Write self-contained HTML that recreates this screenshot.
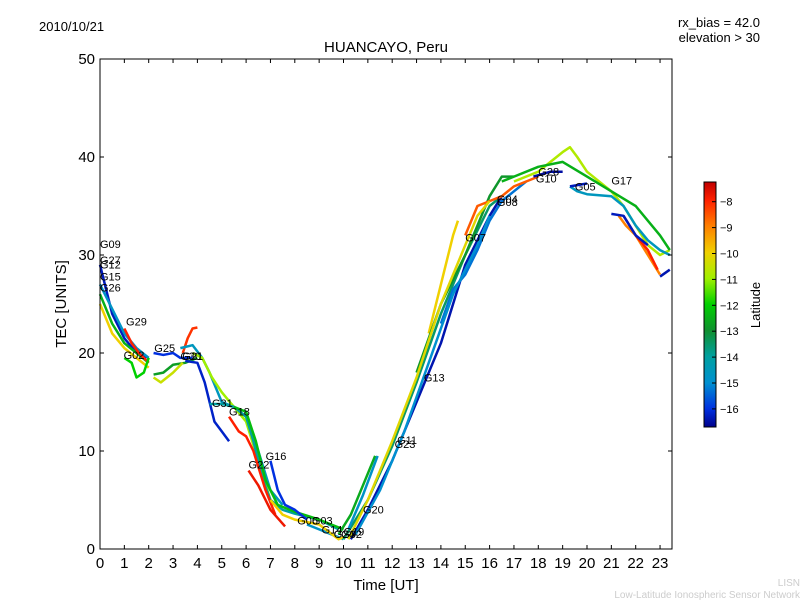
<!DOCTYPE html>
<html><head><meta charset="utf-8"><style>
body{margin:0;background:#fff;}
svg text{font-family:"Liberation Sans","DejaVu Sans",sans-serif;}
</style></head><body>
<svg id="c" width="800" height="600" viewBox="0 0 800 600" xmlns="http://www.w3.org/2000/svg">
<defs>
<linearGradient id="cb" x1="0" y1="1" x2="0" y2="0">
<stop offset="0" stop-color="#00008b"/><stop offset="0.074" stop-color="#0030e0"/><stop offset="0.18" stop-color="#0090d0"/>
<stop offset="0.287" stop-color="#00a0a0"/><stop offset="0.393" stop-color="#109030"/><stop offset="0.5" stop-color="#00d000"/>
<stop offset="0.606" stop-color="#a0f000"/><stop offset="0.713" stop-color="#f0d000"/><stop offset="0.82" stop-color="#ff8000"/>
<stop offset="0.926" stop-color="#ff2000"/><stop offset="1" stop-color="#c00000"/>
</linearGradient>
</defs>
<text x="39" y="31" font-size="13">2010/10/21</text>
<text x="760" y="27" font-size="13" text-anchor="end">rx_bias = 42.0</text>
<text x="760" y="42" font-size="13" text-anchor="end">elevation &gt; 30</text>
<text x="386" y="52" font-size="15" text-anchor="middle">HUANCAYO, Peru</text>
<g id="series"></g>
<g id="labels"></g>
<rect x="100" y="59" width="572" height="490" fill="none" stroke="#000" stroke-width="1"/>
<g id="axes"></g>
<text x="386" y="590" font-size="15" text-anchor="middle">Time [UT]</text>
<text x="66" y="304" font-size="15" text-anchor="middle" transform="rotate(-90 66 304)">TEC [UNITS]</text>
<rect x="704" y="182" width="12" height="245" fill="url(#cb)" stroke="#000" stroke-width="1"/>
<g id="cbticks"></g>
<text x="760" y="305" font-size="13" text-anchor="middle" transform="rotate(-90 760 305)">Latitude</text>
<text x="800" y="586" font-size="10" fill="#ccc" text-anchor="end">LISN</text>
<text x="800" y="598" font-size="10" fill="#ccc" text-anchor="end">Low-Latitude Ionospheric Sensor Network</text>
</svg>
<script>
const xTicks=[0,1,2,3,4,5,6,7,8,9,10,11,12,13,14,15,16,17,18,19,20,21,22,23];
const yTicks=[0,10,20,30,40,50];
const cbTicks=[-8,-9,-10,-11,-12,-13,-14,-15,-16];
const seriesLat=[-16.3,-14.8,-12.5,-10,-8,-12,-16,-12.8,-10.5,-8.2,-14.6,-16.2,-11,-14,-8,-12.3,-7.8,-16,-14.8,-10,-12.6,-13.5,-14.8,-16.4,-10,-12.9,-15.3,-8.6,-10.8,-12.5,-14.6,-16.3,-16.5,-9,-8,-16.3,-16.4,-10.2,-15];
const seriesT=[
[0,0.5,1,1.5,2],[0,0.5,1,1.5,2],[0,0.5,1,1.5,2],[0,0.5,1,1.5,2],[1,1.3,1.6,2],
[1,1.3,1.5,1.8,2],[2.2,2.6,3,3.3,3.8],[2.2,2.6,3,3.5,4],[2.2,2.5,3,3.4],[3.4,3.6,3.8,4],
[3.3,3.8,4.2,4.5,5,5.5,6,6.5,7,7.5],[3.5,4,4.3,4.7,5,5.3],[3.8,4.2,4.6,5,5.5,6,6.5,7,7.5],
[4.5,5,5.5,6,6.3,6.7,7,7.5,8,9,9.8],[5.3,5.7,6,6.3,6.8,7.2],[5.5,6,6.4,6.8,7.3,8,9,10],
[6.1,6.5,7,7.6],[7,7.3,7.6,8,8.5],[8.5,9,9.5,10],[7,7.5,8,9,9.8,10],
[9.8,10.3,10.8,11.3],[10,11,12,13,14,15,16,16.5],[10.2,10.8,11.4],
[10.3,11,12,13,14,14.5,15,16,16.5],[13.5,14,14.5,14.7],[13,14,15,15.5,16,16.5,17],
[14,14.5,15,15.5,16,16.5,17,17.5],[15,15.5,16,16.5,17,18],
[17,18,18.5,19,19.3,19.6,20,21,21.5,22,22.5,23,23.4],[16.5,17,18,19,20,21,22,23,23.4],
[19.3,19.6,20,21,21.5,22,22.5,23,23.4],[19.3,20],[17.8,18.5,19],[21.3,21.6,22,22.5,23],
[21.5,22,22.5,22.9],[21,21.5,22,22.5],[23,23.4],
[10.2,11,12,13,14,15,15.5,16],[10.5,11.5,12.5,13.5,14.5,15.5,16]];
const seriesV=[
[29,24,21.5,20,19.5],[27,24.5,22,20.5,19.5],[26,23,21,20,19],[25,22,20.5,19.5,18.5],[22.5,21,20,19],
[19.5,19,17.5,18,19.5],[20,19.8,20,19.5,19.5],[17.8,18,18.8,19,19.5],[17.5,17,18,19],[20,21.5,22.5,22.6],
[20.5,20.8,19.5,18,15,14.5,13.5,10,6,4.5],[19.2,19,17,13,12,11],[20,19.5,17.5,16,14.5,13,9,5,4],
[14.8,14.8,14.5,13.5,11,7,5,4,3.6,3,2],[13.5,12,11.5,10,6,3.5],[14.5,14,11,7,4.5,3.8,3,2],
[8,6.5,4,2.3],[9,6,4.5,4,3],[2.5,2,1.5,1],[5,3.5,3,2.5,1,1.2],
[1.5,3.5,6.5,9.5],[1,5,10.5,17,24,30,35,36],[2,5.5,9.5],
[1,4,9,15,21,25,29,34,36],[22,27,32,33.5],[18,25,30,33,36,38,38],
[23,26.5,28,30.5,33.5,35.5,36.5,37.5],[32,35,35.5,36,37,38],
[37.5,38.5,39.5,40.5,41,40,38.5,36.5,35,33,31,30,30.5],[37.5,38,39,39.5,38,36.5,35,32,30.5],
[37,36.5,36.2,36,35,33,31.5,30.5,30],[37,37.3],[38,38.5,38.5],[34,33,32,30,28],
[34,32,30.5,28.5],[34.2,34,32,31],[27.8,28.5],
[1,5,11,17.5,25,31,34,35.5],[1.5,6,12,19,26,31,34]];
const labelText=["G09","G27","G12","G15","G26","G29","G02","G25","G30","G21","G31","G18","G22","G16","G06","G03","G14","G24","G32","G19","G20","G11","G23","G13","G07","G04","G08","G28","G10","G05","G17"];
const labelT=[0,0,0,0,0,1.07,0.97,2.23,3.3,3.38,4.6,5.3,6.1,6.8,8.1,8.7,9.1,9.6,9.9,10.0,10.8,12.2,12.1,13.3,15.0,16.3,16.3,18.0,17.9,19.5,21.0];
const labelV=[30.7,29.1,28.6,27.4,26.3,22.8,19.4,20.1,19.3,19.3,14.5,13.6,8.2,9.1,2.5,2.5,1.6,1.1,1.1,1.4,3.6,10.7,10.3,17.1,31.4,35.3,35.0,38.1,37.4,36.6,37.2];
const NS="http://www.w3.org/2000/svg";
const X=h=>100+h*24.35, Y=v=>549-v*9.8, CY=l=>201.7+(-8-l)*25.9;
const stops=[[-16.7,[0,0,139]],[-16,[0,48,224]],[-15,[0,144,208]],[-14,[0,160,160]],[-13,[16,144,48]],[-12,[0,208,0]],[-11,[160,240,0]],[-10,[240,208,0]],[-9,[255,128,0]],[-8,[255,32,0]],[-7.24,[192,0,0]]];
function col(l){for(let i=0;i<stops.length-1;i++){const a=stops[i],b=stops[i+1];if(l<=b[0]||i==stops.length-2){let t=Math.max(0,Math.min(1,(l-a[0])/(b[0]-a[0])));return `rgb(${a[1].map((c,k)=>Math.round(c+(b[1][k]-c)*t)).join(',')})`;}}}
const sg=document.getElementById('series');
seriesT.forEach((ts,i)=>{const p=document.createElementNS(NS,'polyline');
p.setAttribute('points',ts.map((t,j)=>X(t)+','+Y(seriesV[i][j])).join(' '));
p.setAttribute('fill','none');p.setAttribute('stroke',col(seriesLat[i]));p.setAttribute('stroke-width','2.5');p.setAttribute('stroke-linejoin','round');


sg.appendChild(p);});
const lg=document.getElementById('labels');
labelText.forEach((s,i)=>{const t=document.createElementNS(NS,'text');t.setAttribute('x',X(labelT[i]));t.setAttribute('y',Y(labelV[i]));t.setAttribute('font-size','11');t.textContent=s;


lg.appendChild(t);});
const ax=document.getElementById('axes');
function add(tag,attrs,txt){const e=document.createElementNS(NS,tag);for(const k in attrs)e.setAttribute(k,attrs[k]);if(txt!=null)e.textContent=txt;return e;}
xTicks.forEach(h=>{const x=X(h);
let l=add('line',{x1:x,x2:x,y1:549,y2:545,stroke:'#000'});ax.appendChild(l);
let l2=add('line',{x1:x,x2:x,y1:59,y2:63,stroke:'#000'});ax.appendChild(l2);
let t=add('text',{x:x,y:568,'font-size':15,'text-anchor':'middle'},h);ax.appendChild(t);});
yTicks.forEach(v=>{const y=Y(v);
let l=add('line',{x1:100,x2:104,y1:y,y2:y,stroke:'#000'});ax.appendChild(l);
let l2=add('line',{x1:668,x2:672,y1:y,y2:y,stroke:'#000'});ax.appendChild(l2);
let t=add('text',{x:95,y:y+5,'font-size':15,'text-anchor':'end'},v);ax.appendChild(t);});
const cg=document.getElementById('cbticks');
cbTicks.forEach(v=>{const y=CY(v);
let l=add('line',{x1:712,x2:716,y1:y,y2:y,stroke:'#000'});cg.appendChild(l);
let t=add('text',{x:720,y:y+4,'font-size':11},'\u2212'+Math.abs(v));cg.appendChild(t);});
</script>
</body></html>
